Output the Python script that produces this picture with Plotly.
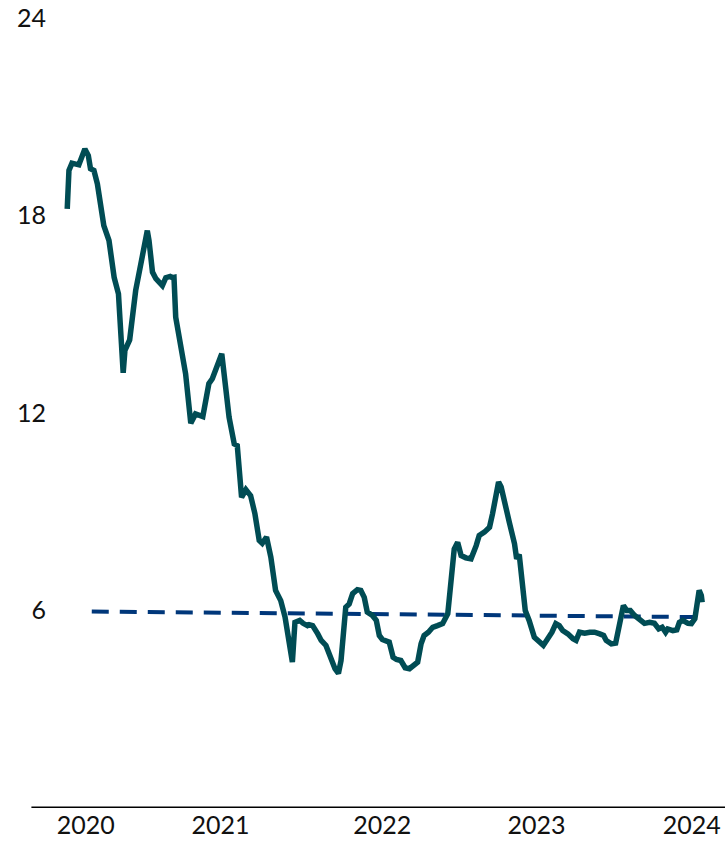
import plotly.graph_objects as go

# Main series
dates = [
    "2020-01-11", "2020-01-15", "2020-01-22", "2020-02-07", "2020-02-21", "2020-02-29",
    "2020-03-05", "2020-03-13", "2020-03-21", "2020-03-29", "2020-04-05", "2020-04-17",
    "2020-04-25", "2020-04-29", "2020-05-09", "2020-05-14", "2020-05-20", "2020-05-24",
    "2020-06-04", "2020-06-18", "2020-07-03", "2020-07-15", "2020-07-19", "2020-07-27",
    "2020-08-04", "2020-08-19", "2020-08-27", "2020-09-06", "2020-09-11", "2020-09-15",
    "2020-09-19", "2020-10-01", "2020-10-12", "2020-10-24", "2020-11-04", "2020-11-21",
    "2020-12-05", "2020-12-13", "2021-01-04", "2021-01-13", "2021-01-21", "2021-02-02",
    "2021-02-09", "2021-02-19", "2021-03-01", "2021-03-12", "2021-03-22", "2021-04-01",
    "2021-04-08", "2021-04-18", "2021-04-28", "2021-05-09", "2021-05-21", "2021-05-31",
    "2021-06-09", "2021-06-17", "2021-06-23", "2021-07-04", "2021-07-12", "2021-07-22",
    "2021-07-26", "2021-08-03", "2021-08-15", "2021-08-23", "2021-09-03", "2021-09-12",
    "2021-09-18", "2021-09-24", "2021-10-02", "2021-10-08", "2021-10-19", "2021-10-27",
    "2021-11-04", "2021-11-15", "2021-11-23", "2021-12-01", "2021-12-08", "2021-12-20",
    "2021-12-29", "2022-01-05", "2022-01-12", "2022-01-28", "2022-02-06", "2022-02-14",
    "2022-02-24", "2022-03-06", "2022-03-16", "2022-03-27", "2022-04-04", "2022-04-12",
    "2022-04-19", "2022-04-29", "2022-05-09", "2022-05-20", "2022-06-01", "2022-06-13",
    "2022-06-20", "2022-06-28", "2022-07-06", "2022-07-14", "2022-07-25", "2022-08-06",
    "2022-08-18", "2022-08-25", "2022-09-06", "2022-09-18", "2022-09-25", "2022-10-09",
    "2022-10-15", "2022-10-25", "2022-11-03", "2022-11-15", "2022-11-20", "2022-11-26",
    "2022-12-04", "2022-12-10", "2022-12-19", "2022-12-31", "2023-01-21", "2023-01-31",
    "2023-02-10", "2023-02-19", "2023-02-27", "2023-03-07", "2023-03-19", "2023-03-31",
    "2023-04-07", "2023-04-15", "2023-04-27", "2023-05-09", "2023-05-20", "2023-06-01",
    "2023-06-10", "2023-06-16", "2023-06-28", "2023-07-08", "2023-07-17", "2023-07-26",
    "2023-08-03", "2023-08-11", "2023-08-21", "2023-09-02", "2023-09-13", "2023-09-25",
    "2023-10-06", "2023-10-16", "2023-10-24", "2023-11-01", "2023-11-06", "2023-11-18",
    "2023-11-27", "2023-12-03", "2023-12-11", "2023-12-23", "2023-12-31", "2024-01-08",
    "2024-01-12", "2024-01-18", "2024-01-23", "2024-01-25",
]
values = [
    18.20, 19.37, 19.59, 19.54, 20.02, 19.82,
    19.42, 19.37, 18.96, 18.10, 17.69, 17.24,
    16.53, 16.12, 15.62, 14.30, 13.22, 13.90,
    14.22, 15.72, 16.73, 17.54, 17.24, 16.28,
    16.08, 15.87, 16.11, 16.15, 16.11, 16.12,
    14.91, 14.10, 13.19, 11.69, 11.97, 11.89,
    12.89, 13.04, 13.80, 12.78, 11.87, 11.06,
    11.01, 9.44, 9.67, 9.49, 8.94, 8.13,
    8.04, 8.23, 7.62, 6.61, 6.30, 5.80,
    5.09, 4.43, 5.64, 5.70, 5.61, 5.54,
    5.57, 5.54, 5.29, 5.09, 4.94, 4.63,
    4.48, 4.23, 4.09, 4.48, 6.10, 6.20,
    6.51, 6.63, 6.61, 6.40, 5.95, 5.85,
    5.70, 5.24, 5.12, 5.04, 4.58, 4.51,
    4.48, 4.26, 4.23, 4.36, 4.43, 4.99,
    5.24, 5.34, 5.49, 5.54, 5.60, 5.90,
    6.71, 7.87, 8.07, 7.67, 7.60, 7.57,
    7.97, 8.28, 8.38, 8.53, 8.94, 9.90,
    9.75, 9.09, 8.68, 8.03, 7.57, 7.70,
    6.56, 6.00, 5.70, 5.19, 4.94, 5.14,
    5.34, 5.60, 5.54, 5.39, 5.29, 5.14,
    5.09, 5.34, 5.31, 5.34, 5.34, 5.29,
    5.24, 5.09, 4.99, 5.01, 5.60, 6.15,
    6.00, 6.00, 5.85, 5.70, 5.61, 5.64,
    5.61, 5.44, 5.49, 5.34, 5.44, 5.39,
    5.41, 5.64, 5.70, 5.61, 5.60, 5.75,
    6.20, 6.61, 6.46, 6.25,
]

# Dashed reference (trend) line
ref_dates = ["2020-03-08", "2024-01-12"]
ref_values = [5.97, 5.80]

# Axis ticks
x_tick_dates = ["2020-02-23", "2021-01-01", "2022-01-12", "2023-01-05", "2024-01-01"]
x_tick_labels = ["2020", "2021", "2022", "2023", "2024"]
y_tick_vals = [6, 12, 18, 24]
y_tick_labels = ["6", "12", "18", "24"]

FONT = "Lato"

fig = go.Figure()
fig.add_trace(go.Scatter(
    x=ref_dates, y=ref_values, mode="lines",
    line=dict(color="#00377A", width=4, dash="17px,11px"),
    hoverinfo="skip", showlegend=False,
))
fig.add_trace(go.Scatter(
    x=dates, y=values, mode="lines",
    line=dict(color="#004C54", width=5.5, shape="linear"),
    showlegend=False,
))

fig.update_layout(
    width=725, height=842,
    margin=dict(l=47, r=0, t=18, b=34),
    paper_bgcolor="white", plot_bgcolor="white",
    font=dict(family=FONT, size=25, color="#111111"),
    xaxis=dict(
        type="date",
        range=["2019-11-25", "2024-03-18"],
        tickmode="array", tickvals=x_tick_dates, ticktext=x_tick_labels,
        showgrid=False, zeroline=False, showline=False,
        ticks="",
        tickfont=dict(family=FONT, size=25, color="#111111"),
        automargin=False,
    ),
    yaxis=dict(
        range=[0, 24],
        tickmode="array", tickvals=y_tick_vals, ticktext=y_tick_labels,
        showgrid=False, zeroline=False, showline=False,
        ticks="", tickfont=dict(family=FONT, size=25, color="#111111"),
        automargin=False,
    ),
    shapes=[dict(
        type="line", xref="paper", yref="y",
        x0=-0.023, x1=1.0, y0=0, y1=0,
        line=dict(color="#000000", width=3),
    )],
)

fig.write_html(
    "out.html",
    config={"displayModeBar": False},
    post_script="document.body.style.margin='0';document.body.style.padding='0';",
)
